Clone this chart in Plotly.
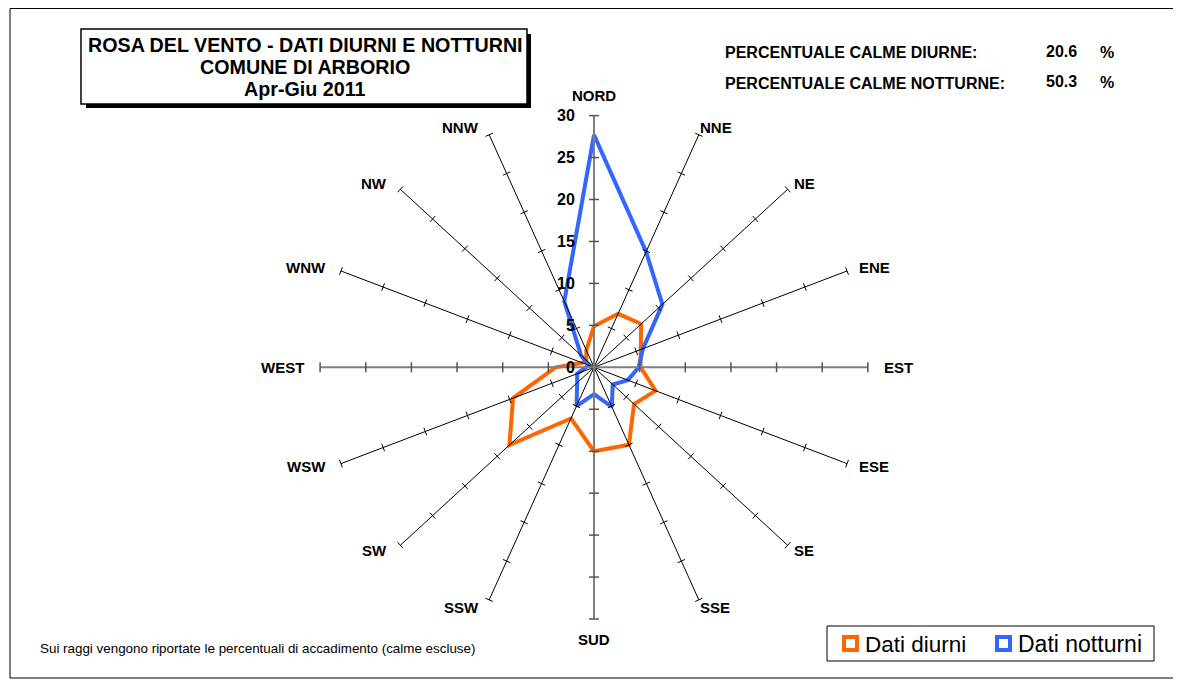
import numpy as np
import plotly.graph_objects as go

# wind rose, percent of occurrence per sector (calms excluded)
directions = ["NORD", "NNE", "NE", "ENE", "EST", "ESE", "SE", "SSE",
              "SUD", "SSW", "SW", "WSW", "WEST", "WNW", "NW", "NNW"]
diurni = [4.9, 6.9, 7.3, 5.6, 5.1, 7.3, 6.2, 10.0, 10.0, 6.6, 13.1, 9.6, 4.2, 1.4, 1.2, 2.2]
notturni = [27.7, 14.9, 10.6, 5.8, 4.9, 4.0, 2.9, 5.1, 3.2, 5.0, 2.6, 2.0, 0.9, 0.6, 2.0, 8.5]
radial_ticks = [0, 5, 10, 15, 20, 25, 30]
calme_diurne = "20.6"
calme_notturne = "50.3"

W, H = 1181, 681
OFF = 8                  # page body margin, positions below are screen px
CX, CY = 594, 367.3      # centre of the rose in screen px
SX, SY = 9.13, 8.39      # px per unit (the Excel chart is stretched horizontally)
RMAX = radial_ticks[-1]
FONT = "Liberation Sans, Arial, sans-serif"
ORANGE = "#FF6600"
BLUE = "#3366FF"

ang = np.deg2rad(np.arange(len(directions)) * 360 / len(directions))


def px(x):
    return (x - OFF) / W


def py(y):
    return 1 - (y - OFF) / H


def closed(vals):
    v = np.append(vals, vals[0])
    a = np.append(ang, ang[0])
    return v * np.sin(a), v * np.cos(a)


fig = go.Figure()

# series
for name, vals, col in [("Dati diurni", diurni, ORANGE), ("Dati notturni", notturni, BLUE)]:
    x, y = closed(vals)
    fig.add_trace(go.Scatter(x=x, y=y, mode="lines", name=name,
                             line=dict(color=col, width=4), showlegend=False,
                             hoverinfo="skip"))

# spokes
sx, sy = [], []
for k, a in enumerate(ang):
    if k % 4 == 0:
        continue
    sx += [0, RMAX * np.sin(a), None]
    sy += [0, RMAX * np.cos(a), None]
fig.add_trace(go.Scatter(x=sx, y=sy, mode="lines", line=dict(color="black", width=1),
                         showlegend=False, hoverinfo="skip"))

# main axes (N-S, E-W) in grey
fig.add_trace(go.Scatter(x=[0, 0, None, -RMAX, RMAX], y=[-RMAX, RMAX, None, 0, 0],
                         mode="lines", line=dict(color="#7f7f7f", width=2),
                         showlegend=False, hoverinfo="skip"))

# tick marks, perpendicular in screen space
tx, ty, gx, gy = [], [], [], []
for k, a in enumerate(ang):
    vx, vy = np.sin(a) * SX, np.cos(a) * SY
    n = np.hypot(vx, vy)
    perp_x, perp_y = vy / n, -vx / n
    half = 5 if k % 4 == 0 else 4
    for r in radial_ticks[1:]:
        cx, cy = r * np.sin(a), r * np.cos(a)
        dx, dy = perp_x * half / SX, perp_y * half / SY
        if k % 4 == 0:
            gx += [cx - dx, cx + dx, None]
            gy += [cy - dy, cy + dy, None]
        else:
            tx += [cx - dx, cx + dx, None]
            ty += [cy - dy, cy + dy, None]
fig.add_trace(go.Scatter(x=tx, y=ty, mode="lines", line=dict(color="black", width=1),
                         showlegend=False, hoverinfo="skip"))
fig.add_trace(go.Scatter(x=gx, y=gy, mode="lines", line=dict(color="#555555", width=1.5),
                         showlegend=False, hoverinfo="skip"))

ann = []
# value labels along the north spoke
for r in radial_ticks:
    ann.append(dict(x=-1.9, y=r, xref="x", yref="y", text=f"<b>{r}</b>", showarrow=False,
                    xanchor="right", yanchor="middle", font=dict(size=16, color="black")))

# direction labels
for k, (lab, a) in enumerate(zip(directions, ang)):
    s, c = np.sin(a), np.cos(a)
    d = dict(x=RMAX * s, y=RMAX * c, xref="x", yref="y", text=f"<b>{lab}</b>",
             showarrow=False, font=dict(size=15, color="black"), yanchor="middle")
    if abs(s) < 1e-6:
        d.update(xanchor="center", yshift=20 * np.sign(c))
    elif s > 0:
        d.update(xanchor="left", xshift=4 + 10 * abs(s) - 9 * abs(c), yshift=8 * c)
    else:
        d.update(xanchor="right", xshift=-(4 + 10 * abs(s)), yshift=8 * c)
    ann.append(d)

# title box
shapes = [
    dict(type="rect", xref="paper", yref="paper", x0=px(86), x1=px(531), y0=py(108), y1=py(34),
         fillcolor="black", line=dict(width=0), layer="above"),
    dict(type="rect", xref="paper", yref="paper", x0=px(81), x1=px(527), y0=py(104), y1=py(29),
         fillcolor="white", line=dict(color="black", width=1.5), layer="above"),
]
for txt, yy in [("ROSA DEL VENTO - DATI DIURNI E NOTTURNI", 45),
                ("COMUNE DI ARBORIO", 67), ("Apr-Giu 2011", 89)]:
    ann.append(dict(x=px(305), y=py(yy), xref="paper", yref="paper", text=f"<b>{txt}</b>",
                    showarrow=False, xanchor="center", yanchor="middle",
                    font=dict(size=19.7, color="black")))

# calms
for lab, val, yy in [("PERCENTUALE CALME DIURNE:", calme_diurne, 53),
                     ("PERCENTUALE CALME NOTTURNE:", calme_notturne, 84)]:
    ann.append(dict(x=px(723), y=py(yy), xref="paper", yref="paper", text=f"<b>{lab}</b>",
                    showarrow=False, xanchor="left", yanchor="middle",
                    font=dict(size=16, color="black")))
    ann.append(dict(x=px(1061), y=py(yy - 2), xref="paper", yref="paper", text=f"<b>{val}</b>",
                    showarrow=False, xanchor="center", yanchor="middle",
                    font=dict(size=16, color="black")))
    ann.append(dict(x=px(1107), y=py(yy - 1), xref="paper", yref="paper", text="<b>%</b>",
                    showarrow=False, xanchor="center", yanchor="middle",
                    font=dict(size=16, color="black")))

# footnote
ann.append(dict(x=px(38), y=py(648), xref="paper", yref="paper",
                text="Sui raggi vengono riportate le percentuali di accadimento (calme escluse)",
                showarrow=False, xanchor="left", yanchor="middle",
                font=dict(size=13.4, color="black")))

# legend drawn by hand (hollow squares like Excel)
shapes.append(dict(type="rect", xref="paper", yref="paper", x0=px(827), x1=px(1154),
                   y0=py(661), y1=py(626), line=dict(color="black", width=1)))
for name, col, x0, fs in [("Dati diurni", ORANGE, 844, 22.5), ("Dati notturni", BLUE, 997, 23)]:
    shapes.append(dict(type="rect", xref="paper", yref="paper", x0=px(x0), x1=px(x0 + 13),
                       y0=py(650), y1=py(637), line=dict(color=col, width=4),
                       fillcolor="white"))
    ann.append(dict(x=px(x0 + 19), y=py(644), xref="paper", yref="paper", text=name,
                    showarrow=False, xanchor="left", yanchor="middle",
                    font=dict(size=fs, color="black")))

# outer frame
shapes.append(dict(type="rect", xref="paper", yref="paper", x0=px(10), x1=px(1175),
                   y0=py(678), y1=py(8.5), line=dict(color="black", width=1)))

fig.update_layout(
    width=W, height=H, margin=dict(l=0, r=0, t=0, b=0),
    paper_bgcolor="white", plot_bgcolor="white",
    font=dict(family=FONT, color="black"),
    xaxis=dict(range=[-(CX - OFF) / SX, (W - (CX - OFF)) / SX], visible=False, fixedrange=True),
    yaxis=dict(range=[-(H - (CY - OFF)) / SY, (CY - OFF) / SY], visible=False, fixedrange=True),
    shapes=shapes, annotations=ann, showlegend=False,
)

fig.write_html("out.html")
